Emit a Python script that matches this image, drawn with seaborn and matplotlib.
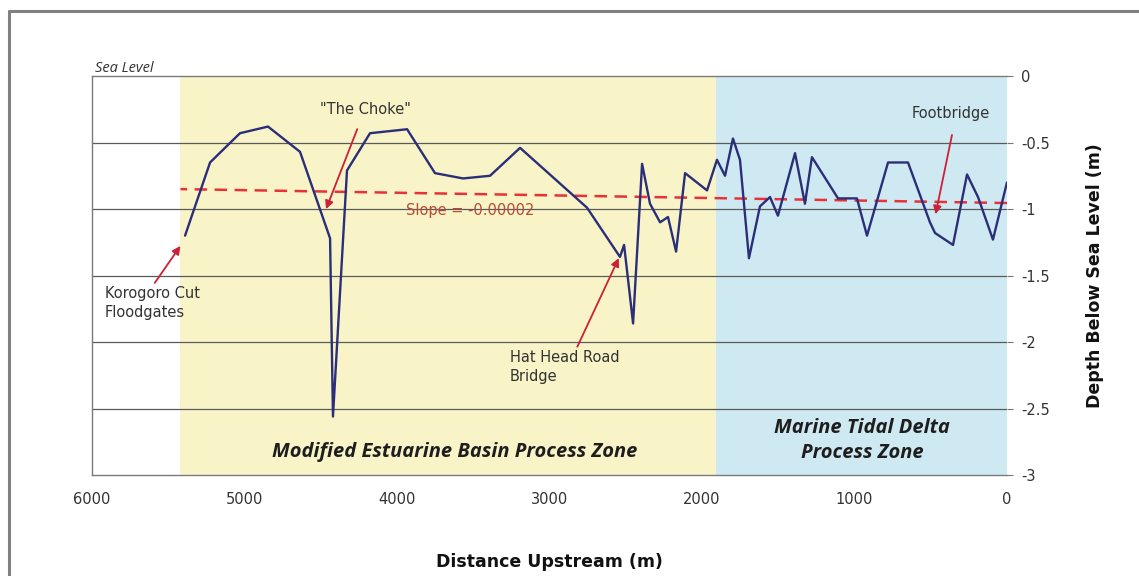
import matplotlib
matplotlib.use("Agg")
import matplotlib.pyplot as plt
from matplotlib.lines import Line2D
import seaborn as sns
import pandas as pd

# Surveyed bed profile along the channel
distance_m = [5390, 5226, 5030, 4846, 4636, 4439, 4420, 4328, 4177, 3934, 3751, 3567,
              3390, 3193, 2754, 2538, 2511, 2452, 2393, 2341, 2275, 2223, 2170, 2111,
              1967, 1902, 1849, 1797, 1751, 1692, 1620, 1554, 1502, 1390, 1325, 1279,
              1108, 984, 918, 780, 649, 505, 472, 354, 262, 190, 92, 0]
depth_m = [-1.20, -0.65, -0.43, -0.38, -0.57, -1.22, -2.56, -0.71, -0.43, -0.40, -0.73, -0.77,
           -0.75, -0.54, -0.99, -1.36, -1.27, -1.86, -0.66, -0.96, -1.10, -1.06, -1.32, -0.73,
           -0.86, -0.63, -0.75, -0.47, -0.63, -1.37, -0.98, -0.91, -1.05, -0.58, -0.96, -0.61,
           -0.92, -0.92, -1.20, -0.65, -0.65, -1.10, -1.18, -1.27, -0.74, -0.91, -1.23, -0.80]

# Linear trend of the bed
trend_distance = [5420, 0]
trend_depth = [-0.85, -0.955]

# Process zones (upstream edge, downstream edge)
estuarine_zone = (5420, 1910)
tidal_zone = (1910, 0)

x_ticks = [6000, 5000, 4000, 3000, 2000, 1000, 0]
y_ticks = [0, -0.5, -1, -1.5, -2, -2.5, -3]
y_tick_labels = ["0", "-0.5", "-1", "-1.5", "-2", "-2.5", "-3"]

sns.set_theme(style="white")
plt.rcParams["font.family"] = ["DejaVu Sans"]
plt.rcParams["axes.unicode_minus"] = False

fig = plt.figure(figsize=(11.39, 5.76), dpi=100)
ax = fig.add_axes([0.0808, 0.1753, 0.8033, 0.6927])

ax.axvspan(*estuarine_zone, color="#f8f4c8", zorder=0, lw=0)
ax.axvspan(*tidal_zone, color="#cfe9f2", zorder=0, lw=0)

for yv in y_ticks[1:-1]:
    ax.axhline(yv, color="#5a5a5a", lw=0.9, zorder=1)

profile = pd.DataFrame({"distance": distance_m, "depth": depth_m})
trend = pd.DataFrame({"distance": trend_distance, "depth": trend_depth})

sns.lineplot(data=trend, x="distance", y="depth", ax=ax, color="#e8323a",
             lw=1.8, linestyle=(0, (5, 3)), zorder=3)
sns.lineplot(data=profile, x="distance", y="depth", ax=ax, color="#2b2e78",
             lw=1.7, estimator=None, sort=False, zorder=4)

ax.set_xlim(6000, 0)
ax.set_ylim(-3, 0)
ax.set_xticks(x_ticks)
ax.set_xticklabels([str(t) for t in x_ticks], fontsize=10.5, color="#333333")
ax.set_yticks(y_ticks)
ax.set_yticklabels(y_tick_labels, fontsize=10.5, color="#333333")
ax.yaxis.tick_right()
ax.yaxis.set_label_position("right")
ax.tick_params(axis="y", length=4, width=0.8, color="#777777", pad=6, right=True, left=False)
ax.tick_params(axis="x", length=0, pad=12)

for side in ["left", "top", "bottom"]:
    ax.spines[side].set_color("#7a7a7a")
    ax.spines[side].set_linewidth(1.0)
ax.spines["right"].set_visible(False)

ax.set_xlabel("Distance Upstream (m)", fontsize=12.5, fontweight="bold", labelpad=33, color="#111111")
ax.set_ylabel("Depth Below Sea Level (m)", fontsize=12.5, fontweight="bold", labelpad=26,
              color="#111111")

arrow = dict(arrowstyle="-|>", color="#cc2038", lw=1.3, mutation_scale=12)
note_font = dict(fontsize=10.5, color="#333333")

ax.annotate('"The Choke"', xy=(4472, -1.02), xytext=(4210, -0.25),
            ha="center", va="center", arrowprops=dict(arrow, shrinkA=7), **note_font)
ax.annotate("Korogoro Cut\nFloodgates", xy=(5410, -1.26), xytext=(5915, -1.58),
            ha="left", va="top", arrowprops=dict(arrow, shrinkA=0, relpos=(0.5, 1.0)),
            linespacing=1.3, **note_font)
ax.annotate("Hat Head Road\nBridge", xy=(2538, -1.35), xytext=(3259, -2.06),
            ha="left", va="top", arrowprops=dict(arrow, shrinkA=0, relpos=(0.6, 1.0)),
            linespacing=1.3, **note_font)
ax.annotate("Footbridge", xy=(472, -1.06), xytext=(367, -0.28),
            ha="center", va="center", arrowprops=dict(arrow, shrinkA=8, relpos=(0.55, 0.0)),
            **note_font)

ax.text(3521, -1.01, "Slope = -0.00002", ha="center", va="center", fontsize=10.5,
        color="#b84a3a", zorder=5)

zone_font = dict(family="Open Sans", fontsize=14.5, fontweight="bold", fontstyle="italic",
                 color="#1e1e1e", ha="center", va="center")
ax.text(3620, -2.83, "Modified Estuarine Basin Process Zone", **zone_font)
ax.text(951, -2.74, "Marine Tidal Delta\nProcess Zone", linespacing=1.3, **zone_font)

fig.text(95 / 1139, 1 - 68 / 576, "Sea Level", family="Open Sans", fontstyle="italic",
         fontsize=10.5, color="#333333", ha="left", va="center")

# Outer frame of the figure
fig.add_artist(Line2D([9 / 1139, 1.0], [1 - 11 / 576, 1 - 11 / 576], color="#808080", lw=2.2))
fig.add_artist(Line2D([9 / 1139, 9 / 1139], [0.0, 1 - 11 / 576], color="#808080", lw=2.2))

fig.savefig("out.png", dpi=100, facecolor="white")
